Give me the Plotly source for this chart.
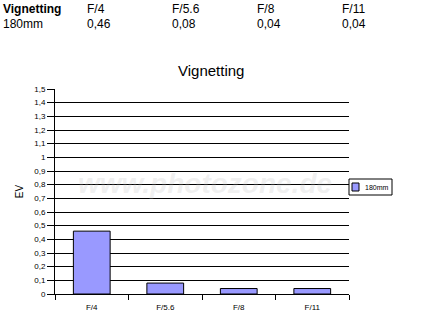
import plotly.graph_objects as go

apertures = ["F/4", "F/5.6", "F/8", "F/11"]
vignetting_180 = [0.46, 0.08, 0.04, 0.04]
value_labels = ["0,46", "0,08", "0,04", "0,04"]
series_name = "180mm"
y_ticks = [i / 10 for i in range(16)]
y_tick_text = ["0", "0,1", "0,2", "0,3", "0,4", "0,5", "0,6", "0,7", "0,8", "0,9", "1",
               "1,1", "1,2", "1,3", "1,4", "1,5"]

FONT = "Liberation Sans, Arial, sans-serif"
BAR_COLOR = "#9999ff"
W, H = 427, 324
L, R, T, B = 55, 78, 89, 30
PW = W - L - R
PH = H - T - B

def px(x):
    return (x - L) / PW

def py(y):
    return 1 - (y - T) / PH

fig = go.Figure()
fig.add_trace(go.Bar(
    x=apertures, y=vignetting_180, name=series_name,
    marker=dict(color=BAR_COLOR, line=dict(color="black", width=1)),
    width=0.5, showlegend=False,
))

ann = []
def add_text(x, y, text, size, anchor="left", color="black"):
    ann.append(dict(x=px(x), y=py(y), xref="paper", yref="paper", text=text, showarrow=False,
                    xanchor=anchor, yanchor="middle",
                    font=dict(size=size, color=color, family=FONT)))

# header table
add_text(1, 9, "<b>Vignetting</b>", 12)
add_text(1, 24, series_name, 12)
cols = [85, 170, 255, 340]
for c, a, v in zip(cols, apertures, value_labels):
    add_text(c, 9, a, 12)
    add_text(c, 24, v, 12)
# title
add_text(211, 71, "Vignetting", 15, anchor="center")
# watermark
add_text(205, 183, "<i><b>www.photozone.de</b></i>", 28, anchor="center",
         color="rgba(190,190,190,0.22)")
# legend (manual, compact)
add_text(363, 187, series_name, 7)

shapes = [
    dict(type="rect", xref="paper", yref="paper", x0=px(349), x1=px(392), y0=py(195), y1=py(179),
         line=dict(color="black", width=1), fillcolor="white", layer="above"),
    dict(type="rect", xref="paper", yref="paper", x0=px(352), x1=px(359), y0=py(191), y1=py(183),
         line=dict(color="black", width=1), fillcolor=BAR_COLOR, layer="above"),
]

fig.update_layout(
    width=W, height=H,
    margin=dict(l=L, r=R, t=T, b=B),
    paper_bgcolor="white", plot_bgcolor="white",
    font=dict(family=FONT, size=8, color="black"),
    showlegend=False,
    annotations=ann,
    shapes=shapes,
    xaxis=dict(type="category", showgrid=False, showline=True, linecolor="black", linewidth=1,
               ticks="outside", tickson="boundaries", ticklen=5, tickcolor="black",
               tickfont=dict(size=8), ticklabelstandoff=5, fixedrange=True),
    yaxis=dict(range=[0, 1.5], tickvals=y_ticks, ticktext=y_tick_text, showgrid=True,
               gridcolor="black", gridwidth=1, showline=True, linecolor="black", linewidth=1,
               ticks="outside", ticklen=7, tickcolor="black", tickfont=dict(size=8),
               title=dict(text="EV", font=dict(size=10), standoff=8), zeroline=False),
    bargap=0.5,
)

fig.write_html("out.html")
